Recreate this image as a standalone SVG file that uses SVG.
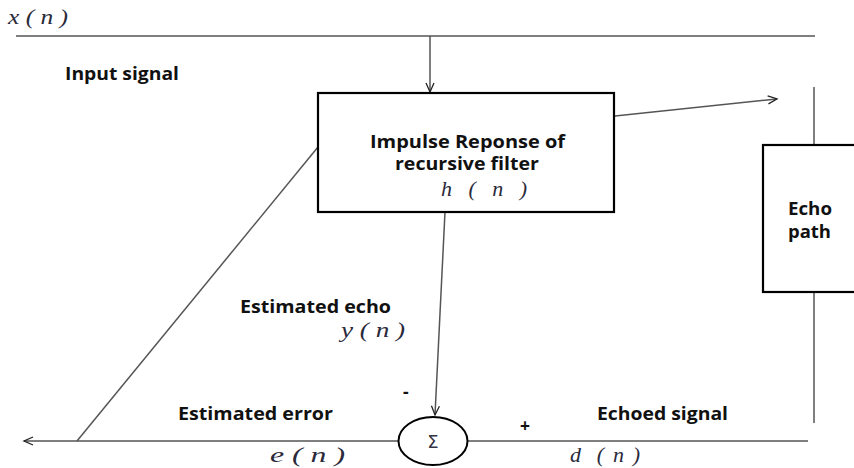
<svg xmlns="http://www.w3.org/2000/svg" width="854" height="468" viewBox="0 0 854 468">
<defs>
<marker id="ah" markerWidth="12" markerHeight="10" refX="10" refY="5" orient="auto" markerUnits="userSpaceOnUse">
<path d="M1,1 L10,5 L1,9" fill="none" stroke="#222" stroke-width="1.3"/>
</marker>
</defs>
<style>
.ln{stroke:#555;stroke-width:1.5;fill:none}
.box{stroke:#000;stroke-width:2.2;fill:#fff}
.lbl{font-family:"Open Sans","Liberation Sans",Arial,sans-serif;font-weight:bold;font-size:17.5px;fill:#111}
.math{font-family:"Liberation Serif","Times New Roman",serif;font-style:italic;font-size:22px;fill:#2a2a3a}
</style>
<rect width="854" height="468" fill="#fff"/>
<g id="connectors">
<line class="ln" x1="16" y1="36" x2="815" y2="36"/>
<line class="ln" x1="430" y1="36" x2="430" y2="92" marker-end="url(#ah)"/>
<line class="ln" x1="615" y1="116" x2="777" y2="99" marker-end="url(#ah)"/>
<line class="ln" x1="814" y1="87" x2="814" y2="145"/>
<line class="ln" x1="814" y1="292" x2="814" y2="423"/>
<line class="ln" x1="445" y1="212" x2="435" y2="415" marker-end="url(#ah)"/>
<line class="ln" x1="808" y1="441" x2="468" y2="441"/>
<line class="ln" x1="398" y1="441" x2="24" y2="441" marker-end="url(#ah)"/>
<line class="ln" x1="77" y1="441" x2="318" y2="147"/>
</g>
<g id="input">
<text class="math" x="8" y="24" textLength="60" lengthAdjust="spacingAndGlyphs" xml:space="preserve">x ( n )</text>
<text class="lbl" x="65" y="80" textLength="114" lengthAdjust="spacingAndGlyphs">Input signal</text>
</g>
<g id="filter">
<rect class="box" x="318" y="93" width="296" height="119"/>
<text class="lbl" x="370" y="148" textLength="195" lengthAdjust="spacingAndGlyphs">Impulse Reponse of</text>
<text class="lbl" x="395" y="170" textLength="144" lengthAdjust="spacingAndGlyphs">recursive filter</text>
<text class="math" x="441" y="196" font-size="21" textLength="86" lengthAdjust="spacing" xml:space="preserve">h  (  n  )</text>
</g>
<g id="echo-path">
<rect class="box" x="763" y="145" width="100" height="147"/>
<text class="lbl" x="788" y="215" textLength="44" lengthAdjust="spacingAndGlyphs">Echo</text>
<text class="lbl" x="788" y="238" textLength="43" lengthAdjust="spacingAndGlyphs">path</text>
</g>
<g id="sum">
<ellipse cx="433" cy="441" rx="34.5" ry="24" fill="#fff" stroke="#000" stroke-width="2"/>
<text x="433" y="448" text-anchor="middle" font-family="'DejaVu Sans',sans-serif" font-size="18" fill="#334">Σ</text>
<text class="lbl" x="403" y="398">-</text>
<text class="lbl" x="520" y="432">+</text>
</g>
<g id="labels">
<text class="lbl" x="240" y="313" textLength="151" lengthAdjust="spacingAndGlyphs">Estimated echo</text>
<text class="math" x="341" y="337" textLength="64" lengthAdjust="spacingAndGlyphs" xml:space="preserve">y ( n )</text>
<text class="lbl" x="178" y="420" textLength="155" lengthAdjust="spacingAndGlyphs">Estimated error</text>
<text class="math" x="270" y="462" textLength="75" lengthAdjust="spacingAndGlyphs" xml:space="preserve">e ( n )</text>
<text class="lbl" x="597" y="420" textLength="131" lengthAdjust="spacingAndGlyphs">Echoed signal</text>
<text class="math" x="570" y="462" textLength="70" lengthAdjust="spacing" xml:space="preserve">d  ( n )</text>
</g>
</svg>
